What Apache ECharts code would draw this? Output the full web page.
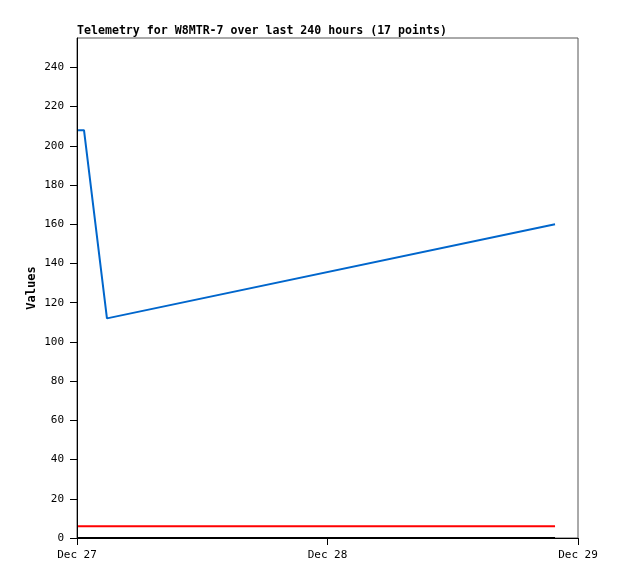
<!DOCTYPE html>
<html>
<head>
<meta charset="utf-8">
<script src="https://cdn.jsdelivr.net/npm/echarts@6/dist/echarts.min.js"></script>
<style>html,body{margin:0;padding:0;background:#fff}#c{width:618px;height:579px}</style>
</head>
<body>
<div id="c"></div>
<script>
// hours since Dec 27 00:00
var xTickLabels = ['Dec 27', 'Dec 28', 'Dec 29'];
var yTicks = [0, 20, 40, 60, 80, 100, 120, 140, 160, 180, 200, 220, 240];
var yAxisTitle = 'Values';
var blueHours = [0.1, 0.67, 2.87, 45.8];
var blueValues = [208, 208, 112, 160];
var redHours = [0.1, 45.8];
var redValues = [6, 6];
var blackHours = [0.1, 45.8];
var blackValues = [0, 0];

function pairs(xs, ys) { return xs.map(function (x, i) { return [x, ys[i]]; }); }
var font = 'DejaVu Sans Mono';
var chart = echarts.init(document.getElementById('c'), null, { renderer: 'canvas' });
chart.setOption({
  animation: false,
  backgroundColor: '#fff',
  title: {
    text: 'Telemetry for W8MTR-7 over last 240 hours (17 points)',
    left: 77, top: 25, padding: 0,
    textStyle: { fontFamily: font, fontWeight: 'bold', fontSize: 11.6, color: '#000' }
  },
  graphic: [{
    type: 'text', x: 32, y: 288, rotation: Math.PI / 2,
    style: { text: yAxisTitle, font: 'bold 12px "DejaVu Sans Mono"', fill: '#000', align: 'center', verticalAlign: 'middle' }
  }],
  grid: { left: 77, right: 40, top: 38, bottom: 41, show: true, borderColor: '#555', borderWidth: 1 },
  xAxis: {
    type: 'value', min: 0, max: 48, interval: 24,
    axisLine: { lineStyle: { color: '#000', width: 1 } },
    axisTick: { show: true, length: 7, lineStyle: { color: '#000' } },
    splitLine: { show: false },
    axisLabel: {
      fontFamily: font, fontSize: 11, color: '#000', margin: 12,
      formatter: function (v) { return xTickLabels[Math.round(v / 24)]; }
    }
  },
  yAxis: {
    type: 'value', min: 0, max: 255,
    axisLine: { show: true, lineStyle: { color: '#000', width: 1 } },
    axisTick: { show: true, length: 7, lineStyle: { color: '#000' }, customValues: yTicks },
    splitLine: { show: false },
    axisLabel: { fontFamily: font, fontSize: 11, color: '#000', margin: 13, customValues: yTicks }
  },
  series: [
    { type: 'line', data: pairs(blackHours, blackValues), symbol: 'none', lineStyle: { color: '#000', width: 2 } },
    { type: 'line', data: pairs(redHours, redValues), symbol: 'none', lineStyle: { color: '#ff0000', width: 2 } },
    { type: 'line', data: pairs(blueHours, blueValues), symbol: 'none', lineStyle: { color: '#0066cc', width: 2 } }
  ]
});
</script>
</body>
</html>
